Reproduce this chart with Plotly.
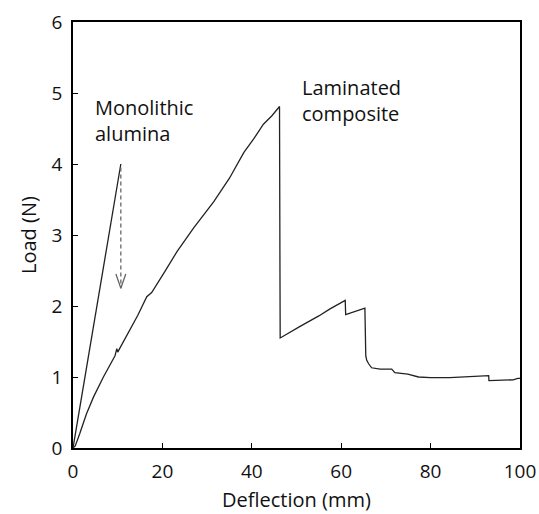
import plotly.graph_objects as go

# Monolithic alumina
mono_x = [0, 10.7]
mono_y = [0, 4.0]

# Laminated composite
lam_x = [0, 0.5, 1.5, 3.0, 4.6, 6.8, 9.4, 9.8, 10.0, 12.1, 14.5, 16.5, 17.6, 20.5, 23.3,
         27.0, 31.5, 35.0, 38.2, 40.5, 42.6, 44.5, 46.2, 46.3, 46.35, 51.0, 55.0, 57.5,
         60.9, 61.0, 63.0, 65.3, 65.5, 65.7, 66.1, 66.8, 68.7, 71.3, 72.0, 74.9, 77.3,
         80.0, 84.3, 89.5, 93.0, 93.05, 98.5, 99.5, 100.0]
lam_y = [0, 0.03, 0.2, 0.48, 0.72, 1.0, 1.30, 1.40, 1.35, 1.59, 1.87, 2.13, 2.19, 2.48, 2.77,
         3.10, 3.47, 3.80, 4.16, 4.36, 4.56, 4.68, 4.81, 2.50, 1.55, 1.72, 1.86, 1.96,
         2.08, 1.88, 1.92, 1.97, 1.30, 1.24, 1.19, 1.13, 1.11, 1.11, 1.06, 1.04, 1.00,
         0.99, 0.99, 1.01, 1.02, 0.95, 0.96, 0.98, 0.98]

# Dashed arrow (monolithic failure drop)
arrow_x = [10.7, 10.7]
arrow_y = [3.95, 2.25]
head_x = [9.6, 10.7, 11.8]
head_y = [2.45, 2.25, 2.45]

x_ticks = [0, 20, 40, 60, 80, 100]
y_ticks = [0, 1, 2, 3, 4, 5, 6]

FONT = "Open Sans"
TXT = "#111111"

fig = go.Figure()
fig.add_trace(go.Scatter(x=mono_x, y=mono_y, mode="lines",
                         line=dict(color="#222222", width=1.3), showlegend=False))
fig.add_trace(go.Scatter(x=lam_x, y=lam_y, mode="lines",
                         line=dict(color="#222222", width=1.3), showlegend=False))
fig.add_trace(go.Scatter(x=arrow_x, y=arrow_y, mode="lines",
                         line=dict(color="#666666", width=1.3, dash="4px,3px"),
                         showlegend=False))
fig.add_trace(go.Scatter(x=head_x, y=head_y, mode="lines",
                         line=dict(color="#666666", width=1.3), showlegend=False))

fig.add_annotation(x=4.5, y=4.61, xref="x", yref="y", text="Monolithic<br>alumina",
                   showarrow=False, xanchor="left", yanchor="middle", align="left",
                   font=dict(family=FONT, size=20, color=TXT))
fig.add_annotation(x=50.8, y=4.89, xref="x", yref="y", text="Laminated<br>composite",
                   showarrow=False, xanchor="left", yanchor="middle", align="left",
                   font=dict(family=FONT, size=20, color=TXT))

# axis titles
fig.add_annotation(x=0.5, y=0, xref="paper", yref="paper", text="Deflection (mm)",
                   showarrow=False, xanchor="center", yanchor="middle", yshift=-51,
                   font=dict(family=FONT, size=20, color=TXT))
fig.add_annotation(x=0, y=0.5, xref="paper", yref="paper", text="Load (N)",
                   showarrow=False, xanchor="center", yanchor="middle", xshift=-45,
                   textangle=-90, font=dict(family=FONT, size=20, color=TXT))

axis_common = dict(showline=True, linecolor="black", linewidth=1.6, mirror=True,
                   ticks="inside", ticklen=5, tickwidth=1.4, tickcolor="black",
                   showgrid=False, zeroline=False, automargin=False,
                   ticklabelstandoff=5,
                   tickfont=dict(family=FONT, size=19, color=TXT))

fig.update_xaxes(range=[0, 100], tickvals=x_ticks, **axis_common)
fig.update_yaxes(range=[0, 6], tickvals=y_ticks, **axis_common)

fig.update_layout(width=539, height=514, autosize=False,
                  margin=dict(l=73, r=19, t=22, b=66),
                  plot_bgcolor="white", paper_bgcolor="white",
                  font=dict(family=FONT, color=TXT))

fig.write_html("out.html", config={"displayModeBar": False},
               post_script="document.body.style.margin='0';document.body.style.overflow='hidden';")
